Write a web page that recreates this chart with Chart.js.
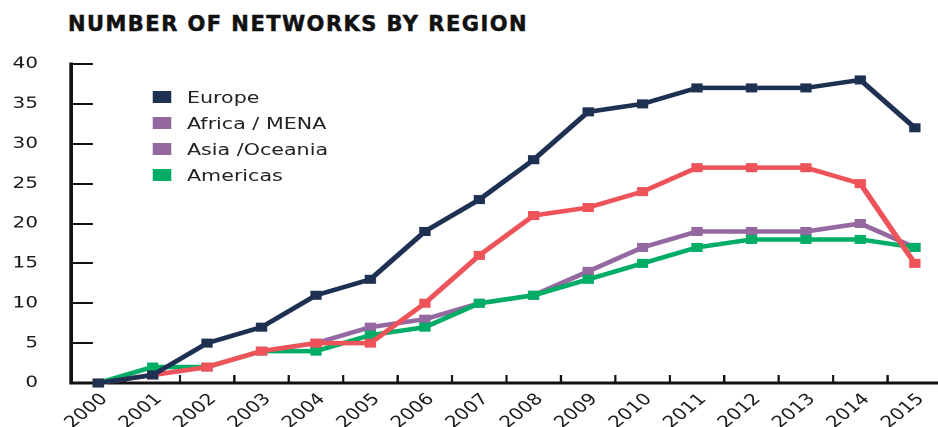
<!DOCTYPE html>
<html>
<head>
<meta charset="utf-8">
<script src="https://cdn.jsdelivr.net/npm/chart.js@4"></script>
<style>
  html, body { margin:0; padding:0; background:#fff; }
  body { width:938px; height:427px; overflow:hidden; position:relative; }
  #title { position:absolute; left:68px; top:12px; font-family:"DejaVu Sans"; font-weight:bold; font-size:21px; letter-spacing:1.45px; color:#111; white-space:nowrap; line-height:24px; -webkit-text-stroke:0.5px #111; }
  #wrap { position:absolute; left:0; top:0; width:760px; height:427px; transform:scaleX(1.25); transform-origin:0 0; }
  #legend { position:absolute; left:121.6px; top:84px; font-family:"DejaVu Sans"; font-size:16.5px; color:#222; }
  .row { height:26px; display:flex; align-items:center; white-space:nowrap; }
  .sw { width:15px; height:12px; margin-right:13px; }
</style>
</head>
<body>
<div id="title">NUMBER OF NETWORKS BY REGION</div>
<div id="wrap">
  <canvas id="c"></canvas>
  <div id="legend"></div>
</div>
<script>
const years = ['2000','2001','2002','2003','2004','2005','2006','2007','2008','2009','2010','2011','2012','2013','2014','2015'];
const europe      = [0, 1, 5, 7, 11, 13, 19, 23, 28, 34, 35, 37, 37, 37, 38, 32];
const africaMena  = [0, 1, 2, 4, 5, 5, 10, 16, 21, 22, 24, 27, 27, 27, 25, 15];
const asiaOceania = [0, 1, 2, 4, 5, 7, 8, 10, 11, 14, 17, 19, 19, 19, 20, 17];
const americas    = [0, 2, 2, 4, 4, 6, 7, 10, 11, 13, 15, 17, 18, 18, 18, 17];
const yMin = 0, yMax = 40, yStep = 5;
const legendNames = ['Europe', 'Africa / MENA', 'Asia /Oceania', 'Americas'];
const legendColors = ['#1f3152', '#9367a0', '#9367a0', '#00ad66'];

const NAVY = '#1f3152', RED = '#ef535a', PURPLE = '#9468a0', GREEN = '#00ad66';

// HTML legend
const lg = document.getElementById('legend');
legendNames.forEach((n, i) => {
  const r = document.createElement('div'); r.className = 'row';
  const s = document.createElement('div'); s.className = 'sw'; s.style.background = legendColors[i];
  const t = document.createElement('span'); t.textContent = n;
  r.appendChild(s); r.appendChild(t); lg.appendChild(r);
});

const tickMarks = {
  id: 'tickMarks',
  beforeDatasetsDraw(chart) {
    const ctx = chart.ctx, x = chart.scales.x, y = chart.scales.y, a = chart.chartArea;
    ctx.save();
    ctx.strokeStyle = '#111';
    ctx.lineWidth = 2;
    y.ticks.forEach(t => {
      const py = Math.round(y.getPixelForValue(t.value)) ;
      ctx.beginPath(); ctx.moveTo(a.left, py); ctx.lineTo(a.left + 17.6, py); ctx.stroke();
    });
    ctx.lineWidth = 1.8;
    for (let i = 1; i < years.length - 1; i++) {
      const px = (x.getPixelForValue(i) + x.getPixelForValue(i + 1)) / 2;
      ctx.beginPath(); ctx.moveTo(px, a.bottom); ctx.lineTo(px, a.bottom - 8); ctx.stroke();
    }
    ctx.restore();
  }
};

function ds(label, data, color, order) {
  return { label, data, borderColor: color, backgroundColor: color, borderWidth: 4.5,
    pointStyle: 'rect', pointRadius: 6.4, pointHoverRadius: 6.4, pointBorderWidth: 0,
    tension: 0, clip: false, order };
}

new Chart(document.getElementById('c'), {
  type: 'line',
  data: {
    labels: years,
    datasets: [
      ds('Europe', europe, NAVY, 1),
      ds('Africa / MENA', africaMena, RED, 2),
      ds('Americas', americas, GREEN, 3),
      ds('Asia /Oceania', asiaOceania, PURPLE, 4)
    ]
  },
  plugins: [tickMarks],
  options: {
    responsive: true,
    maintainAspectRatio: false,
    devicePixelRatio: 2,
    animation: false,
    layout: { padding: { top: 64, right: 2.4, left: 0, bottom: 0 } },
    plugins: { legend: { display: false }, tooltip: { enabled: false }, title: { display: false } },
    scales: {
      x: {
        type: 'category',
        offset: true,
        grid: { display: false, drawTicks: false },
        border: { display: true, color: '#111', width: 3 },
        ticks: { autoSkip: false, minRotation: 45, maxRotation: 45, padding: 7, labelOffset: 5, color: '#1a1a1a',
          font: { family: 'DejaVu Sans', size: 16 } },
        afterFit(s) { s.height = 44; }
      },
      y: {
        min: yMin, max: yMax,
        grid: { display: false, drawTicks: false },
        border: { display: true, color: '#111', width: 3 },
        ticks: { stepSize: yStep, padding: 26.4, color: '#1a1a1a', font: { family: 'DejaVu Sans', size: 16 } },
        afterFit(s) { s.width = 56.8; }
      }
    }
  }
});
</script>
</body>
</html>
